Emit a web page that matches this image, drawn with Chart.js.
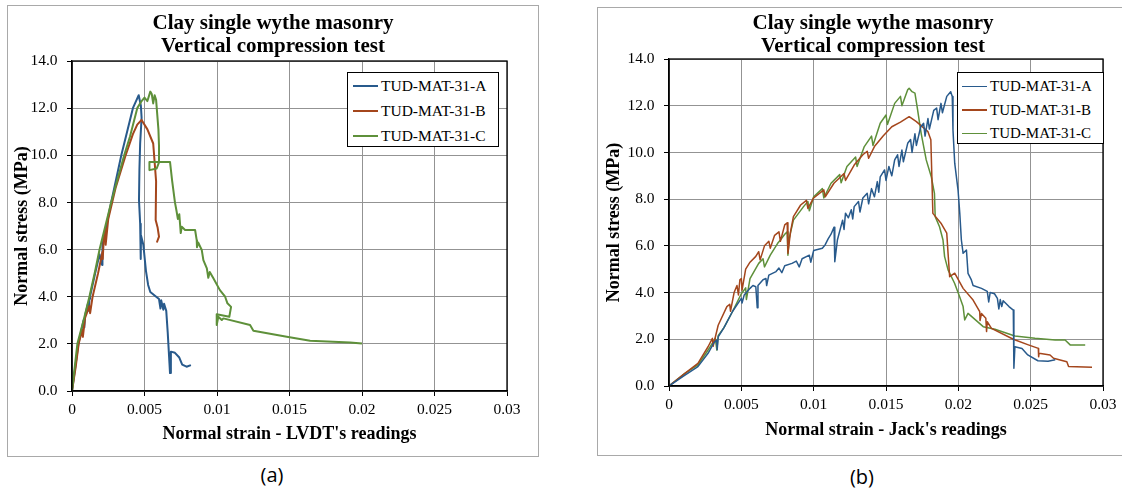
<!DOCTYPE html>
<html>
<head>
<meta charset="utf-8">
<script src="https://cdn.jsdelivr.net/npm/chart.js@4"></script>
<style>
  html, body { margin: 0; padding: 0; background: #fff; overflow: hidden; }
  body { width: 1122px; height: 491px; position: relative; }
  .panel { position: absolute; border: 1px solid #a9a9a9; background: #fff; overflow: hidden; }
  #panelA { left: 7px; top: 5px; width: 530px; height: 450px; }
  #panelB { left: 597px; top: 7px; width: 550px; height: 447px; }
  .panel canvas { position: absolute; left: 0; top: 0; }
  .legend { position: absolute; box-sizing: border-box; border: 1px solid #000; background: #fff;
            font-family: "Liberation Serif", "Times New Roman", serif; color: #000; }
  .legend .row { position: absolute; left: 0; right: 0; height: 20px; }
  .legend .swatch { position: absolute; height: 1.5px; top: 9.5px; }
  .legend .label { position: absolute; top: 0; line-height: 20px; white-space: nowrap; }
  .caption { position: absolute; width: 60px; text-align: center; font-family: "Open Sans", sans-serif;
             font-size: 20px; line-height: 24px; color: #000; }
</style>
</head>
<body>
<div class="panel" id="panelA"><canvas id="lvdtGraph" width="530" height="450"></canvas></div>
<div class="panel" id="panelB"><canvas id="jackGraph" width="550" height="447"></canvas></div>
<div class="legend" id="legendA" style="left:347px; top:72px; width:152px; height:75px;"></div>
<div class="legend" id="legendB" style="left:957px; top:72px; width:147px; height:72px;"></div>
<div class="caption" style="left:242px; top:463px;">(a)</div>
<div class="caption" style="left:832px; top:465px;">(b)</div>
<script>
// series names / colours
const seriesNames = ['TUD-MAT-31-A', 'TUD-MAT-31-B', 'TUD-MAT-31-C'];
const seriesColors = ['#285A8C', '#A4461C', '#5E903A'];
const stressTicks = [0, 2, 4, 6, 8, 10, 12, 14];
const strainTicks = [0, 0.005, 0.01, 0.015, 0.02, 0.025, 0.03];

// (a) LVDT readings
const lvdtA_strain = [0, 0.0002, 0.00044, 0.0008, 0.00085, 0.0009, 0.0011, 0.00117, 0.0012, 0.00124, 0.0016, 0.0019, 0.00207, 0.0021, 0.0027, 0.0034, 0.0038, 0.0042, 0.0046,
  0.00475, 0.0048, 0.0047, 0.00465, 0.00462, 0.0047, 0.00474, 0.00476, 0.00492, 0.0051, 0.00525, 0.0054, 0.006, 0.0061, 0.00615, 0.0063, 0.00635, 0.0065, 0.0066, 0.00676,
  0.00682, 0.0071, 0.0074, 0.0076, 0.0079, 0.0082];
const lvdtA_stress = [0, 0.9, 2.0, 3.0, 2.7, 3.2, 3.7, 3.4, 3.9, 4.0, 5.0, 5.8, 5.35, 6.2, 8.0, 10.0, 11.0, 12.0, 12.55,
  12.1, 11.6, 10.5, 9.4, 8.1, 7.1, 5.6, 6.6, 6.2, 5.1, 4.5, 4.2, 3.9, 3.5, 3.85, 3.45, 3.7, 3.4, 2.5, 0.76,
  1.67, 1.62, 1.42, 1.12, 1.03, 1.1];

const lvdtB_strain = [0, 0.00025, 0.00046, 0.0007, 0.00075, 0.0009, 0.0012, 0.00125, 0.00142, 0.0018, 0.0021, 0.00212, 0.0022, 0.0023, 0.00232, 0.0025, 0.003, 0.0037, 0.0042, 0.0045, 0.0048,
  0.0052, 0.0056, 0.0057, 0.0058, 0.00577, 0.0059, 0.006, 0.00585];
const lvdtB_stress = [0, 1.0, 2.0, 2.6, 2.3, 3.1, 3.6, 3.3, 4.0, 5.0, 5.9, 5.6, 6.6, 6.9, 6.2, 7.3, 8.6, 10.0, 10.9, 11.3, 11.5,
  11.1, 10.5, 9.7, 8.9, 7.25, 6.95, 6.55, 6.3];

const lvdtC_strain = [0, 0.00037, 0.0008, 0.0012, 0.0016, 0.0019, 0.0023, 0.0027, 0.0031, 0.0036, 0.004, 0.0045, 0.0048, 0.005, 0.0052, 0.0054, 0.0055, 0.0056, 0.0057, 0.0058,
  0.00596, 0.006, 0.006, 0.00584, 0.00534, 0.00534, 0.00676, 0.0069, 0.0071, 0.0072, 0.0073, 0.0074, 0.0075, 0.00757, 0.0078, 0.00849, 0.0086, 0.00862, 0.0087,
  0.00895, 0.00906, 0.0093, 0.0094, 0.0095, 0.00975, 0.0102, 0.01056, 0.01072, 0.01097, 0.01085, 0.00998, 0.00998, 0.01009, 0.01033, 0.01044,
  0.01228, 0.01251, 0.01481, 0.01642, 0.01918, 0.02];
const lvdtC_stress = [0, 2.0, 3.0, 4.0, 5.1, 6.0, 7.0, 8.0, 8.9, 10.0, 10.8, 12.0, 12.3, 12.45, 12.3, 12.7, 12.6, 12.2, 12.55, 12.35,
  11.1, 10.4, 9.7, 9.44, 9.37, 9.72, 9.72, 8.95, 8.0, 7.67, 7.3, 7.5, 6.7, 6.97, 6.83, 6.83, 6.4, 6.1, 6.3,
  5.98, 5.55, 5.2, 4.8, 5.05, 4.78, 4.28, 4.0, 3.72, 3.57, 3.15, 3.26, 2.8, 3.15, 3.01, 3.08,
  2.8, 2.56, 2.3, 2.13, 2.06, 2.02];

// (b) Jack readings
const jackA_strain = [0, 0.001, 0.002, 0.0027, 0.0031, 0.0033, 0.00333, 0.0034, 0.0038, 0.0044,
  0.005, 0.00505, 0.0052, 0.0056, 0.0058, 0.006, 0.0061, 0.00615, 0.0065, 0.0067,
  0.00675, 0.0069, 0.0074, 0.0076, 0.0078, 0.008, 0.0085, 0.0088, 0.009, 0.0092,
  0.0097, 0.0098, 0.01, 0.0106, 0.0108, 0.011, 0.0112, 0.01141, 0.01146, 0.01164,
  0.012, 0.0121, 0.0122, 0.0124, 0.0126, 0.0127, 0.0128, 0.0131, 0.0132, 0.0134,
  0.0137, 0.0138, 0.014, 0.0142, 0.0144, 0.0145, 0.0146, 0.0149, 0.015, 0.0152,
  0.0154, 0.0156, 0.0158, 0.0159, 0.0161, 0.0162, 0.0165, 0.0167, 0.0168, 0.017,
  0.0171, 0.0174, 0.0176, 0.0177, 0.0179, 0.018, 0.0183, 0.0185, 0.0186, 0.0188,
  0.0189, 0.0192, 0.01947, 0.01958, 0.01963, 0.01975, 0.01998, 0.0201, 0.02021, 0.02033,
  0.02056, 0.02067, 0.0209, 0.02102, 0.0216, 0.022, 0.0221, 0.0222, 0.0225, 0.0227,
  0.0228, 0.0229, 0.023, 0.0231, 0.0235, 0.0238, 0.02384, 0.02391, 0.0244, 0.0248,
  0.0255, 0.0262, 0.0267];
const jackA_stress = [0, 0.42, 0.83, 1.4, 1.85, 1.97, 1.55, 2.1, 2.5, 3.2,
  3.75, 3.55, 3.9, 4.18, 4.3, 4.25, 3.35, 4.3, 4.55, 4.6,
  4.3, 4.75, 4.9, 5.05, 4.85, 5.15, 5.25, 5.35, 5.1, 5.45,
  5.6, 5.3, 5.8, 5.9, 6.05, 6.3, 6.5, 6.8, 5.32, 6.25,
  7.1, 6.7, 7.4, 7.2, 7.55, 7.15, 7.68, 7.9, 7.45, 8.05,
  8.25, 7.8, 8.45, 8.1, 8.75, 8.3, 8.95, 9.25, 8.8, 9.4,
  9.0, 9.68, 9.9, 9.4, 10.1, 9.6, 10.39, 10.55, 10.0, 10.8,
  10.3, 11.1, 11.25, 10.7, 11.45, 11.0, 11.8, 11.9, 11.4, 12.1,
  11.7, 12.4, 12.6, 12.39, 10.96, 9.54, 8.39, 7.39, 6.25, 5.68,
  5.82, 4.82, 4.54, 4.3, 4.18, 4.05, 3.6, 4.0, 3.95, 3.75,
  3.3, 3.7, 3.4, 3.65, 3.4, 3.25, 0.76, 1.68, 1.61, 1.33,
  1.08, 1.06, 1.12];

const jackB_strain = [0, 0.0011, 0.002, 0.0027, 0.003, 0.00305, 0.0034, 0.004, 0.0042, 0.00425,
  0.0045, 0.0047, 0.0048, 0.0049, 0.005, 0.00505, 0.0053, 0.0056, 0.006, 0.0062,
  0.0063, 0.0066, 0.0069, 0.007, 0.0073, 0.0076, 0.0077, 0.008, 0.00817, 0.00822,
  0.0084, 0.0086, 0.0091, 0.0095, 0.0096, 0.01, 0.0107, 0.0108, 0.0114, 0.0121,
  0.0122, 0.0128, 0.0134, 0.0137, 0.0138, 0.0142, 0.0148, 0.0154, 0.016, 0.0166,
  0.0171, 0.0179, 0.0181, 0.01824, 0.0188, 0.0192, 0.01929, 0.0194, 0.01975, 0.02033,
  0.02102, 0.02148, 0.0215, 0.0216, 0.0219, 0.02195, 0.022, 0.02229, 0.0238, 0.02484,
  0.02553, 0.02555, 0.02558, 0.02634, 0.02658, 0.0275, 0.02762, 0.02924];
const jackB_stress = [0, 0.54, 0.97, 1.68, 2.04, 1.7, 2.6, 3.4, 3.5, 3.2,
  4.0, 4.3, 3.9, 4.55, 4.6, 4.1, 5.0, 5.3, 5.55, 5.75,
  5.4, 6.0, 6.2, 5.9, 6.45, 6.6, 6.2, 6.9, 6.99, 5.68,
  6.6, 7.25, 7.75, 7.95, 7.6, 8.05, 8.4, 8.1, 8.68, 9.1,
  8.8, 9.46, 9.9, 10.05, 9.75, 10.25, 10.7, 11.1, 11.3, 11.53,
  11.32, 10.89, 10.54, 7.39, 6.97, 6.54, 5.68, 4.68, 4.83, 4.18,
  3.68, 3.18, 2.8, 3.1, 2.9, 2.33, 2.75, 2.47, 2.0, 1.76,
  1.61, 1.25, 1.4, 1.33, 1.19, 1.04, 0.83, 0.8];

const jackC_strain = [0, 0.0011, 0.002, 0.0027, 0.0032, 0.00331, 0.0034, 0.0038, 0.0044, 0.005,
  0.0053, 0.00535, 0.0056, 0.0062, 0.0065, 0.0066, 0.007, 0.0075, 0.0077, 0.008,
  0.00817, 0.00822, 0.0083, 0.0086, 0.0093, 0.0096, 0.0097, 0.01, 0.0106, 0.0107,
  0.0112, 0.0118, 0.0119, 0.0123, 0.0129, 0.013, 0.0135, 0.014, 0.0141, 0.0146,
  0.015, 0.0151, 0.0156, 0.016, 0.0161, 0.0165, 0.0166, 0.0168, 0.017, 0.01715,
  0.01743, 0.01778, 0.01813, 0.01835, 0.0184, 0.0187, 0.01894, 0.01905, 0.01929, 0.01974,
  0.02009, 0.02033, 0.02044, 0.02067, 0.02172, 0.02253, 0.02391, 0.0253, 0.02669, 0.02738,
  0.02773, 0.02877];
const jackC_stress = [0, 0.54, 0.9, 1.54, 2.04, 1.54, 2.15, 2.5, 3.2, 3.95,
  4.2, 3.7, 4.6, 5.25, 5.45, 5.1, 5.6, 6.1, 6.25, 6.5,
  6.6, 5.6, 6.3, 7.1, 7.68, 7.9, 7.5, 8.1, 8.45, 8.05,
  8.68, 9.05, 8.7, 9.4, 9.8, 9.4, 10.25, 10.7, 10.3, 11.25,
  11.6, 11.2, 12.1, 12.4, 12.0, 12.68, 12.75, 12.6, 12.54, 11.96,
  10.82, 9.68, 8.96, 8.25, 7.25, 6.82, 6.25, 5.54, 4.97, 4.4,
  3.82, 3.4, 2.83, 3.11, 2.54, 2.43, 2.14, 2.04, 1.97, 1.97,
  1.76, 1.76];

function pts(xs, ys) {
    return xs.map((x, i) => ({ x: x, y: ys[i] }));
}

const serif = '"Liberation Serif", "Times New Roman", serif';

// black frame round the plot area
const plotFrame = {
    id: 'plotFrame',
    afterDraw(chart) {
        const a = chart.chartArea;
        const ctx = chart.ctx;
        ctx.save();
        ctx.strokeStyle = '#000';
        ctx.lineWidth = 1.3;
        ctx.strokeRect(a.left, a.top, a.right - a.left, a.bottom - a.top);
        ctx.restore();
    }
};

function makeConfig(set, lay) {
    return {
        type: 'scatter',
        data: {
            datasets: set.map((s, i) => ({
                label: seriesNames[i],
                data: s,
                showLine: true,
                borderColor: seriesColors[i],
                backgroundColor: seriesColors[i],
                borderWidth: lay.lineWidth,
                borderJoinStyle: 'round',
                pointRadius: 0,
                order: lay.orders[i]
            }))
        },
        options: {
            responsive: false,
            animation: false,
            devicePixelRatio: 1,
            layout: { padding: 0 },
            plugins: {
                legend: { display: false },
                tooltip: { enabled: false },
                title: {
                    display: true,
                    text: ['Clay single wythe masonry', 'Vertical compression test'],
                    color: '#000',
                    font: { family: serif, size: 21, weight: 'bold', lineHeight: 1.1 },
                    padding: { top: lay.titleTop, bottom: lay.titleBottom }
                }
            },
            scales: {
                x: {
                    type: 'linear',
                    min: 0,
                    max: 0.03,
                    afterBuildTicks: function(s) { s.ticks = strainTicks.map(v => ({ value: v })); },
                    afterFit: function(s) { s.height = lay.xHeight; },
                    ticks: {
                        color: '#000',
                        padding: 5,
                        font: { family: serif, size: 15.5 },
                        callback: function(value) { return String(Number(value.toFixed(3))); }
                    },
                    grid: { color: '#939393', tickColor: '#000', tickLength: 5, lineWidth: 1 },
                    border: { color: '#000', width: 1.3 },
                    title: {
                        display: true,
                        text: lay.xTitle,
                        color: '#000',
                        font: { family: serif, size: 18, weight: 'bold' },
                        padding: { top: 0, bottom: lay.xTitleBottom }
                    }
                },
                y: {
                    type: 'linear',
                    min: 0,
                    max: 14,
                    afterBuildTicks: function(s) { s.ticks = stressTicks.map(v => ({ value: v })); },
                    afterFit: function(s) { s.width = lay.yWidth; },
                    ticks: {
                        color: '#000',
                        padding: 9.5,
                        font: { family: serif, size: 15.5 },
                        callback: function(value) { return value.toFixed(1); }
                    },
                    grid: { color: '#939393', tickColor: '#000', tickLength: 5, lineWidth: 1 },
                    border: { color: '#000', width: 1.3 },
                    title: {
                        display: true,
                        text: 'Normal stress (MPa)',
                        color: '#000',
                        font: { family: serif, size: 18, weight: 'bold' },
                        padding: { top: lay.yTitleTop, bottom: 0 }
                    }
                },
                // empty axis on the right, only keeps the plot area where it belongs
                spare: {
                    type: 'linear',
                    position: 'right',
                    display: true,
                    afterFit: function(s) { s.width = lay.rightGap; },
                    ticks: { display: false },
                    grid: { display: false, drawTicks: false },
                    border: { display: false }
                }
            }
        },
        plugins: [plotFrame]
    };
}

const lvdtChart = new Chart(document.getElementById('lvdtGraph'), makeConfig(
    [pts(lvdtA_strain, lvdtA_stress), pts(lvdtB_strain, lvdtB_stress), pts(lvdtC_strain, lvdtC_stress)],
    { xTitle: "Normal strain - LVDT's readings", lineWidth: 2, orders: [2, 1, 0],
      titleTop: 5.75, titleBottom: 3.05, xHeight: 65, yWidth: 64, rightGap: 31,
      xTitleBottom: 11.2, yTitleTop: 3.2 }));

const jackChart = new Chart(document.getElementById('jackGraph'), makeConfig(
    [pts(jackA_strain, jackA_stress), pts(jackB_strain, jackB_stress), pts(jackC_strain, jackC_stress)],
    { xTitle: "Normal strain - Jack's readings", lineWidth: 1.5, orders: [0, 1, 2],
      titleTop: 3.75, titleBottom: 1.05, xHeight: 69, yWidth: 71, rightGap: 45,
      xTitleBottom: 14.2, yTitleTop: 5.7 }));

function buildLegend(id, opts) {
    const box = document.getElementById(id);
    seriesNames.forEach(function(name, i) {
        const row = document.createElement('div');
        row.className = 'row';
        row.style.top = (opts.first + i * opts.step) + 'px';
        const sw = document.createElement('div');
        sw.className = 'swatch';
        sw.style.left = opts.swLeft + 'px';
        sw.style.width = '25px';
        sw.style.background = seriesColors[i];
        const lb = document.createElement('div');
        lb.className = 'label';
        lb.style.left = opts.textLeft + 'px';
        lb.style.fontSize = opts.size + 'px';
        lb.textContent = name;
        row.appendChild(sw);
        row.appendChild(lb);
        box.appendChild(row);
    });
}

buildLegend('legendA', { first: 2.5, step: 25, swLeft: 5, textLeft: 33, size: 15.5 });
buildLegend('legendB', { first: 3, step: 23.5, swLeft: 4, textLeft: 32, size: 15 });
</script>
</body>
</html>
